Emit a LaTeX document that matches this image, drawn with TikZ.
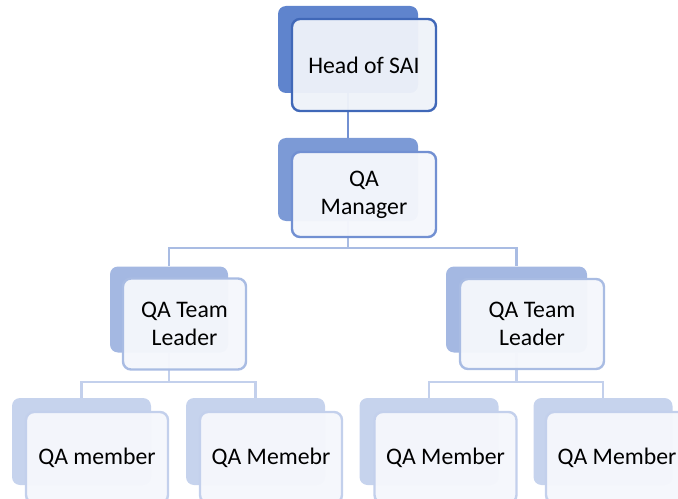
\documentclass[tikz,border=0pt]{standalone}
\usepackage{fontspec}
\setmainfont{Carlito}
\usepackage{xcolor}
\definecolor{backA}{HTML}{5F84CD}
\definecolor{backB}{HTML}{7C9AD6}
\definecolor{backC}{HTML}{A4B8E2}
\definecolor{backD}{HTML}{C6D3ED}
\definecolor{lineA}{HTML}{4068B8}
\definecolor{lineB}{HTML}{7290D2}
\definecolor{lineC}{HTML}{A9BCE3}
\definecolor{lineD}{HTML}{C3D0EC}
\definecolor{paleA}{HTML}{EEF2F9}
\definecolor{paleB}{HTML}{F5F7FC}

\begin{document}
\begin{tikzpicture}[x=0.75pt, y=-0.75pt,
    back/.style={rounded corners=6pt, inner sep=0pt, fill=#1},
    front/.style={rounded corners=6pt, inner sep=0pt, draw=#1, line width=1.8pt,
      fill=paleB, fill opacity=0.96, text opacity=1, align=center,
      font=\fontsize{17.8}{21}\selectfont},
    link/.style={draw=#1, line width=1.6pt}]
  \useasboundingbox (0,0) rectangle (678,499);
  \clip (0,0) rectangle (678,499);

  % back plates
  \node (headb) at (348,49.5) [back=backA, minimum width=105pt, minimum height=65.25pt] {};
  \node (mgrb) at (348,179.5) [back=backB, minimum width=105pt, minimum height=62.25pt] {};
  \node (tl1b) at (169,309.5) [back=backC, minimum width=88.5pt, minimum height=64.5pt] {};
  \node (tl2b) at (516.5,309.5) [back=backC, minimum width=105.75pt, minimum height=64.5pt] {};
  \node (m1b) at (81.5,441.5) [back=backD, minimum width=104.25pt, minimum height=65.25pt] {};
  \node (m2b) at (255.5,441.5) [back=backD, minimum width=104.25pt, minimum height=65.25pt] {};
  \node (m3b) at (429,441.5) [back=backD, minimum width=104.25pt, minimum height=65.25pt] {};
  \node (m4b) at (603,441.5) [back=backD, minimum width=104.25pt, minimum height=65.25pt] {};

  % connectors
  \coordinate (bus2) at (348,248);
  \coordinate (bus3a) at (169,382);
  \coordinate (bus3b) at (516.5,382);
  \draw[link=lineB] (headb.south) -- (mgrb.north);
  \draw[link=lineC] (mgrb.south) -- (bus2) -| (tl1b.north);
  \draw[link=lineC] (bus2) -| (tl2b.north);
  \draw[link=lineD] (tl1b.south) -- (bus3a) -| (m1b.north);
  \draw[link=lineD] (bus3a) -| (m2b.north);
  \draw[link=lineD] (tl2b.south) -- (bus3b) -| (m3b.north);
  \draw[link=lineD] (bus3b) -| (m4b.north);

  % front boxes
  \node (head) at (364,65) [front=lineA, fill=paleA, minimum width=108pt, minimum height=69pt] {Head of SAI};
  \node (mgr) at (364,194.5) [front=lineB, minimum width=108pt, minimum height=63.75pt] {QA\\Manager};
  \node (tl1) at (184.5,324) [front=lineC, minimum width=92.25pt, minimum height=68.25pt] {QA Team\\Leader};
  \node (tl2) at (532,324) [front=lineC, minimum width=108pt, minimum height=67.5pt] {QA Team\\Leader};
  \node (m1) at (97,457.5) [front=lineD, minimum width=106.5pt, minimum height=68.25pt] {QA member};
  \node (m2) at (271,457.5) [front=lineD, minimum width=106.5pt, minimum height=68.25pt] {QA Memebr};
  \node (m3) at (445.5,457.5) [front=lineD, minimum width=106.5pt, minimum height=68.25pt] {QA Member};
  \node (m4) at (617,457.5) [front=lineD, minimum width=106.5pt, minimum height=68.25pt] {QA Member};
\end{tikzpicture}
\end{document}
